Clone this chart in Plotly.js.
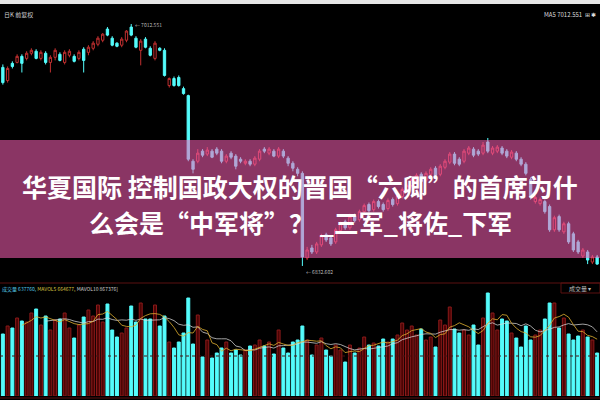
<!DOCTYPE html>
<html>
<head>
<meta charset="utf-8">
<script src="https://cdn.plot.ly/plotly-3.0.1.min.js"></script>
<style>html,body{margin:0;padding:0;background:#000;}#chart{width:600px;height:400px;}</style>
</head>
<body>
<div id="chart"></div>
<script>
// ---- data ----
const openP = [6980.3,6970.5,6983.3,6984.0,6988.5,6987.0,6990.8,6992.3,6987.0,6990.8,
6984.0,6987.8,6990.0,6984.0,6989.3,6988.5,6987.0,6993.8,6991.5,6994.5,
6997.5,7000.5,7008.8,7002.0,6998.3,6996.8,7000.5,7010.3,7002.0,6993.0,
7001.3,6994.5,6987.0,6994.5,6993.0,6966.8,6972.0,6972.8,6964.5,6959.3,
6910.5,6910.5,6918.0,6915.8,6918.0,6919.5,6918.0,6910.5,6916.5,6914.3,
6912.0,6909.0,6910.5,6908.3,6912.0,6919.5,6916.5,6918.0,6914.3,6918.0,
6912.8,6909.0,6904.5,6901.5,6838.5,6846.0,6843.0,6848.3,6855.8,6853.5,
6850.5,6858.8,6865.5,6861.0,6870.0,6867.0,6873.0,6878.3,6874.5,6880.5,
6878.3,6875.3,6882.0,6879.0,6884.3,6888.8,6892.5,6896.3,6900.8,6896.3,
6900.8,6905.3,6900.8,6906.0,6909.8,6915.8,6912.0,6910.5,6916.5,6919.5,
6918.0,6916.5,6924.8,6916.5,6918.0,6920.3,6918.0,6913.5,6916.5,6912.0,
6908.3,6897.0,6880.5,6879.0,6880.5,6876.8,6859.5,6869.3,6858.0,6864.0,
6856.5,6850.5,6840.0,6843.0,6835.5,6839.3];
const closeP = [6969.0,6979.5,6981.0,6988.5,6983.3,6990.8,6993.0,6987.0,6991.5,6984.0,
6987.8,6993.0,6985.5,6991.5,6992.3,6984.8,6991.5,6985.5,6995.3,6998.3,
7002.0,7005.0,7004.3,6996.8,6996.0,7001.3,7007.3,7004.3,6995.3,6999.8,
6995.3,6989.3,6998.3,6993.0,6974.3,6972.0,6966.8,6966.8,6960.8,6912.0,
6904.5,6916.5,6915.0,6918.8,6913.5,6916.5,6910.5,6914.3,6913.5,6906.8,
6910.5,6910.5,6908.3,6912.8,6918.0,6918.0,6919.5,6914.3,6919.5,6914.3,
6909.0,6905.3,6901.5,6839.3,6844.5,6843.0,6849.0,6855.0,6852.0,6849.0,
6859.5,6864.0,6861.0,6869.3,6866.3,6873.0,6877.5,6873.8,6880.5,6876.8,
6874.5,6881.3,6878.3,6885.0,6889.5,6892.5,6897.0,6900.0,6895.5,6901.5,
6904.5,6900.0,6906.8,6910.5,6915.8,6909.0,6908.3,6918.0,6920.3,6915.0,
6915.8,6922.5,6918.0,6920.3,6921.0,6916.5,6914.3,6917.3,6912.0,6908.3,
6901.5,6883.5,6883.5,6882.0,6873.0,6859.5,6868.5,6859.5,6864.0,6850.5,
6844.5,6843.0,6844.5,6837.0,6839.3,6834.0];
const highP = [6982.5,6981.0,6984.8,6990.0,6990.0,6992.3,6994.5,6993.8,6993.0,6992.3,
6989.3,6994.5,6991.5,6993.0,6993.8,6990.0,6993.0,6995.3,6996.8,6999.8,
7003.5,7005.8,7010.3,7003.5,6999.0,7002.8,7008.0,7012.551,7003.5,7001.3,
7002.8,6996.0,6999.8,6995.3,6994.5,6972.8,6973.5,6974.3,6966.0,6960.0,
6912.0,6919.5,6919.5,6921.0,6919.5,6921.0,6919.5,6915.8,6918.0,6915.8,
6913.5,6912.0,6912.0,6914.3,6919.5,6921.0,6921.0,6919.5,6921.0,6919.5,
6914.3,6910.5,6906.0,6903.0,6846.8,6848.3,6850.5,6856.5,6857.3,6855.0,
6861.0,6865.5,6867.0,6871.5,6871.5,6874.5,6879.0,6879.8,6882.0,6882.0,
6879.8,6882.8,6883.5,6886.5,6891.0,6894.0,6898.5,6901.5,6902.3,6903.0,
6906.0,6906.8,6908.3,6912.0,6917.3,6917.3,6913.5,6919.5,6921.8,6921.0,
6919.5,6924.8,6927.8,6921.8,6922.5,6921.8,6919.5,6918.8,6918.0,6913.5,
6909.8,6898.5,6885.0,6883.5,6882.0,6878.3,6870.0,6870.8,6865.5,6865.5,
6858.0,6852.0,6846.0,6844.5,6840.8,6840.8];
const lowP = [6967.5,6969.0,6979.5,6983.3,6976.5,6985.5,6989.3,6986.3,6985.5,6982.5,
6976.5,6985.5,6984.8,6982.5,6987.8,6984.0,6985.5,6976.5,6989.3,6993.0,
6996.0,6999.0,7003.5,6996.0,6995.3,6995.3,6999.0,7003.5,6994.5,6981.8,
6994.5,6988.5,6985.5,6992.3,6973.5,6965.3,6966.0,6966.0,6960.0,6910.5,
6901.5,6909.0,6913.5,6914.3,6912.8,6915.0,6909.0,6909.0,6912.0,6904.5,
6909.0,6907.5,6906.8,6906.8,6910.5,6916.5,6915.0,6913.5,6912.8,6912.8,
6906.8,6903.0,6899.3,6832.602,6837.0,6841.5,6841.5,6846.8,6850.5,6847.5,
6849.0,6857.3,6859.5,6859.5,6864.8,6865.5,6871.5,6872.3,6873.0,6875.3,
6873.0,6873.8,6876.8,6877.5,6882.8,6887.3,6891.0,6894.8,6894.0,6894.8,
6899.3,6898.5,6899.3,6904.5,6908.3,6907.5,6906.8,6909.0,6915.0,6913.5,
6914.3,6915.0,6916.5,6915.0,6916.5,6915.0,6912.8,6912.0,6910.5,6906.8,
6900.0,6882.0,6879.0,6877.5,6871.5,6858.0,6858.0,6858.0,6856.5,6849.0,
6843.0,6841.5,6838.5,6834.0,6834.0,6833.5];
const volume = [620000,700000,680000,780000,750000,740000,830000,870000,710000,800000,
660000,760000,770000,830000,680000,580000,710000,790000,860000,800000,
910000,740000,920000,660000,590000,630000,680000,900000,740000,930000,
770000,770000,910000,700000,800000,540000,480000,540000,630000,980000,
520000,810000,390000,560000,380000,430000,480000,540000,430000,460000,
410000,460000,500000,510000,560000,500000,540000,420000,660000,480000,
430000,540000,560000,700000,560000,410000,510000,580000,460000,400000,
510000,460000,340000,510000,430000,480000,590000,510000,530000,500000,
570000,540000,570000,610000,730000,660000,700000,610000,670000,560000,
590000,490000,760000,710000,890000,670000,630000,660000,610000,710000,
510000,780000,1030000,830000,660000,770000,750000,630000,580000,490000,
700000,560000,610000,660000,770000,930000,930000,680000,780000,620000,
560000,600000,660000,590000,560000,430000];
const highLabel = "← 7012.551";
const lowLabel = "← 6832.602";
const titleLine1 = "华夏国际 控制国政大权的晋国“六卿”的首席为什";
const titleLine2 = "么会是“中军将”？ _三军_将佐_下军";

// ---- derived ----
const idx = openP.map((_, i) => i);
const UP = '#c03030', DOWN = '#54fcfc';
const isUp = closeP.map((c, i) => c >= openP[i]);
function ma(arr, n) {
  return arr.map((_, i) => {
    if (i < n - 1) return null;
    let s = 0; for (let k = i - n + 1; k <= i; k++) s += arr[k];
    return s / n;
  });
}
const mav5 = ma(volume, 5), mav10 = ma(volume, 10);
const iHigh = highP.indexOf(Math.max(...highP));
const iLow = lowP.indexOf(Math.min(...lowP));

const traces = [
  {
    type: 'candlestick', x: idx, open: openP, high: highP, low: lowP, close: closeP,
    xaxis: 'x', yaxis: 'y', hoverinfo: 'skip', whiskerwidth: 0,
    increasing: {line: {color: UP, width: 1}, fillcolor: 'rgba(0,0,0,0)'},
    decreasing: {line: {color: DOWN, width: 1}, fillcolor: DOWN},
    showlegend: false
  },
  {
    type: 'bar', x: idx, y: volume, xaxis: 'x', yaxis: 'y2', width: 0.62,
    marker: {
      color: isUp.map(u => u ? 'rgba(80,4,4,0.95)' : DOWN),
      line: {color: isUp.map(u => u ? '#8a1a1a' : DOWN), width: 1}
    },
    hoverinfo: 'skip', showlegend: false
  },
  {type: 'scatter', mode: 'lines', x: idx, y: mav10, xaxis: 'x', yaxis: 'y2',
   line: {color: '#d8d8d8', width: 1}, hoverinfo: 'skip', showlegend: false, opacity: 0.75},
  {type: 'scatter', mode: 'lines', x: idx, y: mav5, xaxis: 'x', yaxis: 'y2',
   line: {color: '#e0b030', width: 1}, hoverinfo: 'skip', showlegend: false, opacity: 0.8}
];

const FONT = 'Noto Sans CJK SC, Noto Sans, sans-serif';
const layout = {
  width: 600, height: 400,
  margin: {l: 0, r: 0, t: 0, b: 0},
  paper_bgcolor: '#000', plot_bgcolor: '#000',
  showlegend: false,
  bargap: 0.3,
  xaxis: {range: [-0.6, 125.6], showgrid: false, zeroline: false, showticklabels: false,
          ticks: '', showline: false, rangeslider: {visible: false}, fixedrange: true},
  yaxis: {domain: [0.325, 0.9875], range: [6829.6, 7026.7], showgrid: false, zeroline: false,
          showticklabels: false, ticks: '', showline: false},
  yaxis2: {domain: [0.01, 0.2925], range: [0, 1130000], showgrid: false, zeroline: false,
           showticklabels: false, ticks: '', showline: false},
  shapes: [
    {type: 'rect', xref: 'paper', yref: 'paper', x0: 0, x1: 1, y0: 0.99, y1: 1,
     fillcolor: '#e6e6e6', line: {width: 0}, layer: 'above'},
    {type: 'line', xref: 'paper', yref: 'paper', x0: 0, x1: 1, y0: 0.2925, y1: 0.2925,
     line: {color: '#5a1010', width: 1}},
    {type: 'line', xref: 'paper', yref: 'paper', x0: 0, x1: 1, y0: 0.11, y1: 0.11,
     line: {color: '#4a1010', width: 1, dash: 'dot'}},
    {type: 'line', xref: 'paper', yref: 'paper', x0: 0, x1: 1, y0: 0.005, y1: 0.005,
     line: {color: '#5a1010', width: 1}},
    {type: 'rect', xref: 'paper', yref: 'paper', x0: 0.935, x1: 1, y0: 0.2675, y1: 0.2925,
     fillcolor: 'rgba(0,0,0,0)', line: {color: '#5a1010', width: 1}},
    {type: 'rect', xref: 'paper', yref: 'paper', x0: 0, x1: 1, y0: 0.355, y1: 0.65,
     fillcolor: 'rgb(251,96,182)', opacity: 0.55, line: {width: 0}, layer: 'above'}
  ],
  annotations: [
    {xref: 'paper', yref: 'paper', x: 0.003, y: 0.98, xanchor: 'left', yanchor: 'top',
     text: '日K 前复权', showarrow: false, font: {family: FONT, size: 6, color: '#cfcfcf'}},
    {xref: 'paper', yref: 'paper', x: 0.997, y: 0.98, xanchor: 'right', yanchor: 'top',
     text: 'MA5 7012.551  ⊞ ✱', showarrow: false, font: {family: FONT, size: 6, color: '#dcdcdc'}},
    {xref: 'x', yref: 'y', x: iHigh, y: highP[iHigh], xanchor: 'left', yanchor: 'middle', xshift: 2,
     text: highLabel, showarrow: false, font: {family: FONT, size: 5, color: '#bdbdbd'}},
    {xref: 'x', yref: 'y', x: iLow, y: lowP[iLow], xanchor: 'left', yanchor: 'top', xshift: 2,
     text: lowLabel, showarrow: false, font: {family: FONT, size: 5, color: '#bdbdbd'}},
    {xref: 'paper', yref: 'paper', x: 0.0, y: 0.278, xanchor: 'left', yanchor: 'middle',
     text: '<span style="color:#54c8e8">成交量 637760,</span> <span style="color:#d8c040">MAVOL5 664677,</span> <span style="color:#d0d0d0">MAVOL10 867376]</span>',
     showarrow: false, font: {family: FONT, size: 5, color: '#54c8e8'}},
    {xref: 'paper', yref: 'paper', x: 0.967, y: 0.28, xanchor: 'center', yanchor: 'middle',
     text: '成交量 ▾', showarrow: false, font: {family: FONT, size: 6, color: '#bdbdbd'}},
    {xref: 'paper', yref: 'paper', x: 0.5, y: 1 - 186/400, xanchor: 'center', yanchor: 'middle',
     text: '<b>' + titleLine1 + '</b>', showarrow: false,
     font: {family: FONT, size: 25, color: '#ffffff'}},
    {xref: 'paper', yref: 'paper', x: 0.5, y: 1 - 222/400, xanchor: 'center', yanchor: 'middle',
     text: '<b>' + titleLine2 + '</b>', showarrow: false,
     font: {family: FONT, size: 25, color: '#ffffff'}}
  ]
};

Plotly.newPlot('chart', traces, layout, {displayModeBar: false, staticPlot: true});
</script>
</body>
</html>
